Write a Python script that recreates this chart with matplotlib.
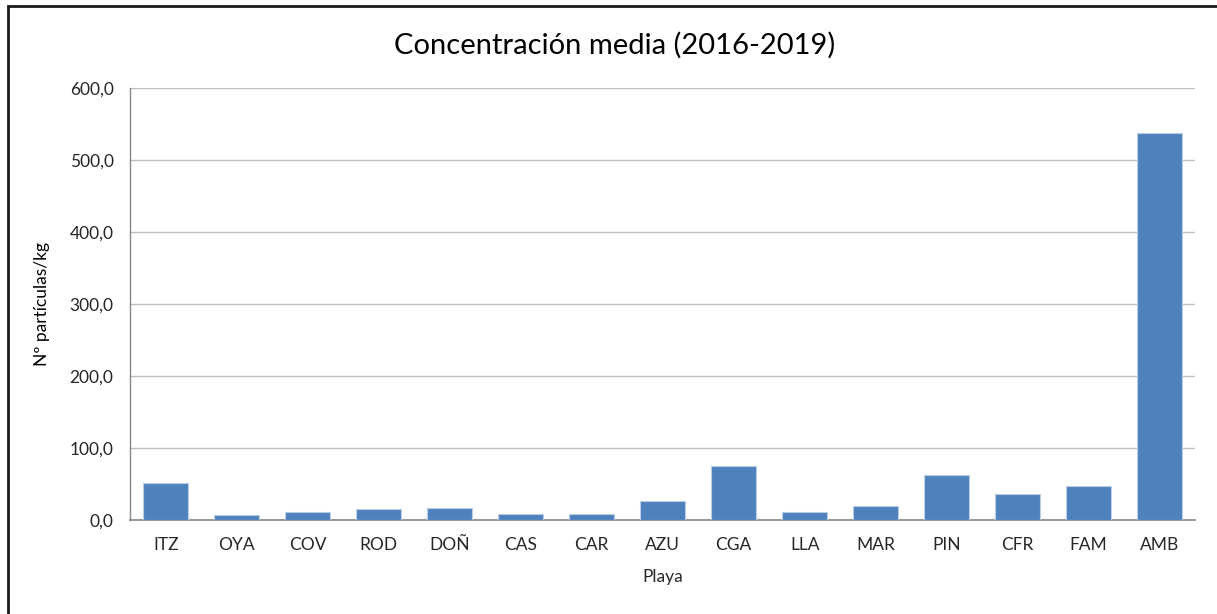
import matplotlib.pyplot as plt
from matplotlib.patches import Rectangle
from matplotlib.ticker import FuncFormatter

# Concentración media por playa (2016-2019)
playas = ["ITZ", "OYA", "COV", "ROD", "DOÑ", "CAS", "CAR", "AZU",
          "CGA", "LLA", "MAR", "PIN", "CFR", "FAM", "AMB"]
concentracion = [51.4, 6.4, 10.6, 15.7, 17.1, 7.8, 7.8, 26.8,
                 75.4, 10.6, 19.9, 61.9, 36.5, 46.7, 537.5]
y_ticks = [0, 100, 200, 300, 400, 500, 600]

plt.rcParams['font.family'] = ['Lato', 'DejaVu Sans']

fig = plt.figure(figsize=(12.17, 6.14), dpi=100)
ax = fig.add_axes([0.107, 0.153, 0.875, 0.704])

x = range(len(playas))
ax.bar(x, concentracion, width=0.63, color="#4F81BD",
       edgecolor="#B9CDE5", linewidth=0.8, zorder=3)

ax.set_xlim(-0.5, len(playas) - 0.5)
ax.set_ylim(0, 600)
ax.set_yticks(y_ticks)
ax.yaxis.set_major_formatter(FuncFormatter(lambda v, p: f"{v:.1f}".replace(".", ",")))
ax.set_xticks(list(x))
ax.set_xticklabels(playas)

ax.grid(axis="y", color="#BFBFBF", linewidth=1, zorder=0)
for s in ["top", "right"]:
    ax.spines[s].set_visible(False)
ax.spines["left"].set_color("#868686")
ax.spines["bottom"].set_color("#868686")
ax.spines["left"].set_linewidth(1)
ax.spines["bottom"].set_linewidth(1.2)
ax.tick_params(axis="both", length=0, labelsize=12.5, colors="#262626", pad=12)

# título centrado en la figura
fig.text(0.505, 1 - 45 / 614, "Concentración media (2016-2019)", fontsize=21,
         color="black", ha="center", va="center")
ax.set_ylabel("Nº partículas/kg", fontsize=12.5, color="black", labelpad=14)
ax.set_xlabel("Playa", fontsize=12.5, color="#262626", labelpad=12)

# marco exterior del gráfico
fig.patches.append(Rectangle((8 / 1217, -0.1), 1.2, 1.1 - 6 / 614,
                             transform=fig.transFigure, fill=False,
                             edgecolor="#1a1a1a", linewidth=2))

fig.savefig("out.png", dpi=100)
